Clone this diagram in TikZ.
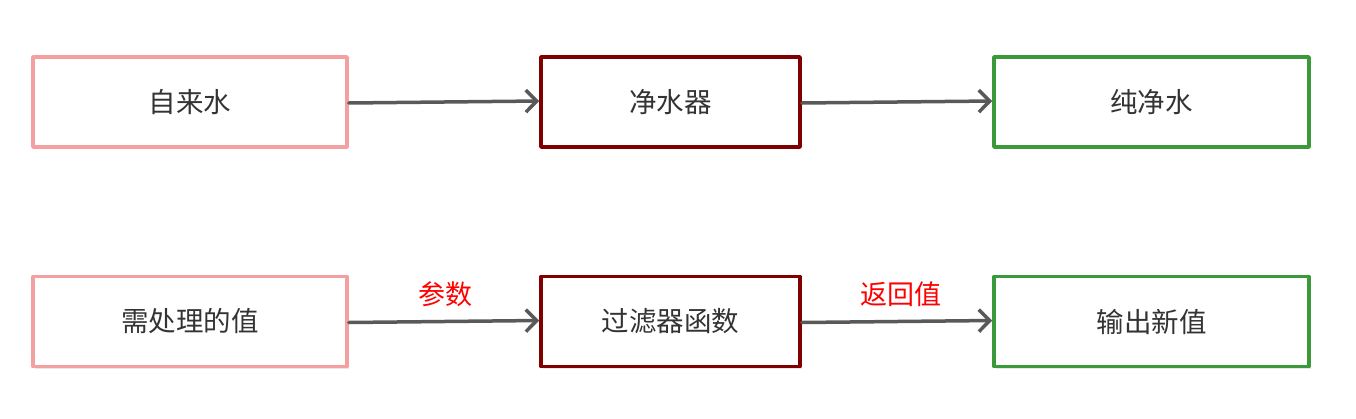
\documentclass[tikz,border=0pt]{standalone}
\usepackage{fontspec}
\usepackage{tikz}
\usetikzlibrary{arrows.meta}
\usetikzlibrary{shadows}
\newfontfamily\cjk{Noto Sans CJK SC}
\definecolor{pinkline}{RGB}{244,160,160}
\definecolor{redline}{RGB}{128,0,0}
\definecolor{greenline}{RGB}{58,154,58}
\definecolor{arrowgray}{RGB}{89,89,89}
\definecolor{textgray}{RGB}{51,51,51}
\tikzset{
  box/.style={draw,line width=3.5pt,fill=white,minimum height=90pt,inner sep=0pt,
    font=\cjk\fontsize{27.5}{31}\selectfont,text=textgray,
    drop shadow={opacity=0.18,shadow xshift=2pt,shadow yshift=-2pt}},
  pinkbox/.style={box,draw=pinkline,minimum width=314pt},
  redbox/.style={box,draw=redline,minimum width=259pt},
  greenbox/.style={box,draw=greenline,minimum width=315pt},
  flow/.style={line width=3.5pt,draw=arrowgray,-{Straight Barb[length=11pt,width=22pt,line width=3.5pt]}},
  tag/.style={font=\cjk\fontsize{27}{31}\selectfont,text=red}
}
\begin{document}
\begin{tikzpicture}[line cap=round,line join=round,x=1pt,y=-1pt]
\useasboundingbox (0,0) rectangle (1356,418);
% first row
\node[pinkbox] (zilaishui) at (190,102) {自来水};
\node[redbox] (jingshuiqi) at (670.5,102) {净水器};
\node[greenbox] (chunjingshui) at (1151.5,102) {纯净水};
\draw[flow] ([yshift=-1pt]zilaishui.east) -- ([yshift=1pt]jingshuiqi.west);
\draw[flow] ([yshift=-1pt]jingshuiqi.east) -- ([yshift=1pt]chunjingshui.west);
% second row
\node[pinkbox] (zhi) at (190,321.5) {需处理的值};
\node[redbox] (guolvqi) at (670.5,321.5) {过滤器函数};
\node[greenbox] (xinzhi) at (1151.5,321.5) {输出新值};
\draw[flow] ([yshift=-1pt]zhi.east) -- ([yshift=1pt]guolvqi.west);
\draw[flow] ([yshift=-1pt]guolvqi.east) -- ([yshift=1pt]xinzhi.west);
\node[tag] (canshu) at (445,294) {参数};
\node[tag] (fanhui) at (901,294) {返回值};
\end{tikzpicture}
\end{document}
